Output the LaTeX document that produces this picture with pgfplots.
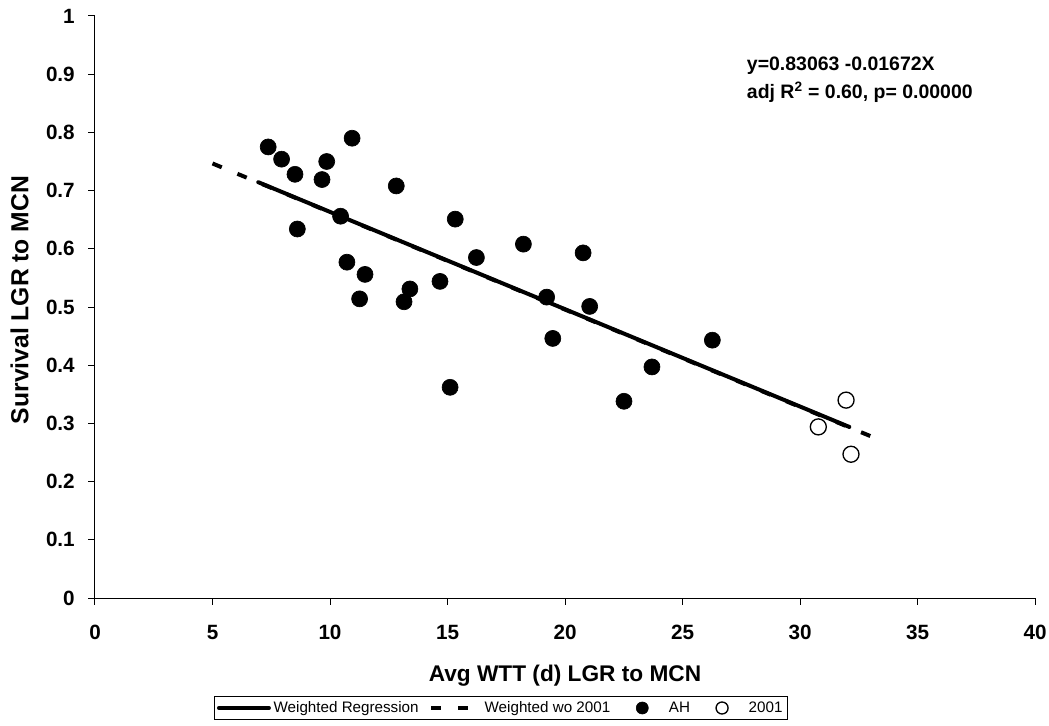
\documentclass[border=0pt]{standalone}
\usepackage{fontspec}
\setmainfont{Liberation Sans}
\usepackage{pgfplots}
\pgfplotsset{compat=1.18}
\pgfplotsset{
  solid leg/.style={legend image code/.code={\draw[##1] (0pt,0pt) -- (37.5pt,0pt);}},
  dash leg/.style={legend image code/.code={\path[draw=none,fill=none] (0pt,-1pt) rectangle (38pt,1pt);
    \draw[##1] (0pt,0pt) -- (27.75pt,0pt);}},
  mark leg/.style={legend image code/.code={\path[draw=none,fill=none] (0pt,-1pt) rectangle (34pt,1pt);
    \draw[##1, mark size=4.5pt] plot coordinates {(16pt,0pt)};}},
}

\begin{document}
\begin{tikzpicture}
\useasboundingbox (-71.25pt,-95.25pt) rectangle (715.5pt,448.5pt);
\begin{axis}[
  scale only axis, width=705pt, height=436.5pt,
  xmin=0, xmax=40, ymin=0, ymax=1,
  clip=false,
  axis x line*=bottom, axis y line*=left,
  axis line style={-, line width=0.75pt},
  xtick={0,5,10,15,20,25,30,35,40},
  ytick={0,0.1,0.2,0.3,0.4,0.5,0.6,0.7,0.8,0.9,1},
  tick align=outside, major tick length=5pt,
  tick style={black, line width=0.75pt},
  /pgf/number format/assume math mode=true,
  tick label style={font=\fontsize{15.5}{18}\selectfont\bfseries, inner sep=0pt},
  yticklabel style={xshift=-10pt},
  xticklabel style={yshift=-15pt},
  xlabel={Avg WTT (d) LGR to MCN},
  ylabel={Survival LGR to MCN},
  label style={font=\fontsize{17}{20}\selectfont\bfseries, inner sep=0pt},
  xlabel style={at={(axis description cs:0.5,-0.1438)}, anchor=base},
  ylabel style={at={(axis description cs:-0.071,0.512)}, anchor=base,
    font=\fontsize{18.5}{22}\selectfont\bfseries},
  legend style={at={(0.432,-0.189)}, anchor=center, legend columns=4,
    draw=black, line width=0.75pt, inner sep=2pt,
    font=\fontsize{11.4}{13}\selectfont,
    /tikz/every even column/.append style={column sep=6pt}},
]
\addplot[black, line width=3pt, line cap=round, solid leg]
  coordinates {(6.95,0.7144) (32.1,0.2939)};
\addlegendentry{Weighted Regression}

\addplot[black, line width=3pt, dash pattern=on 7.5pt off 12.75pt, dash leg]
  coordinates {(5,0.7466) (33.3,0.2731)};
\addlegendentry{Weighted wo 2001}

\addplot[only marks, mark=*, mark size=6pt, black,
  mark options={fill=black, line width=0.5pt}, mark leg]
  coordinates {
(7.37,0.775) (7.94,0.754) (8.51,0.728) (8.61,0.634) (9.66,0.719)
(9.86,0.750) (10.45,0.656) (10.72,0.577) (10.94,0.790) (11.26,0.514)
(11.49,0.556) (12.82,0.708) (13.15,0.509) (13.40,0.531) (14.68,0.544)
(15.11,0.362) (15.33,0.651) (16.23,0.585) (18.23,0.608) (19.22,0.517)
(19.48,0.446) (20.77,0.593) (21.05,0.501) (22.51,0.338) (23.70,0.397)
(26.27,0.443)
};
\addlegendentry{AH}

\addplot[only marks, mark=*, mark size=6pt, black,
  mark options={fill=white, line width=1pt}, mark leg]
  coordinates {(30.78,0.294) (31.96,0.340) (32.17,0.247)};
\addlegendentry{2001}

\node[anchor=base west, inner sep=0pt, font=\fontsize{14.6}{17}\selectfont\bfseries]
  at (axis cs:27.73,0.906) {y=0.83063 -0.01672X};
\node[anchor=base west, inner sep=0pt, font=\fontsize{14.6}{17}\selectfont\bfseries]
  at (axis cs:27.73,0.8586) {adj R\textsuperscript{2} = 0.60, p= 0.00000};
\end{axis}
\end{tikzpicture}
\end{document}
